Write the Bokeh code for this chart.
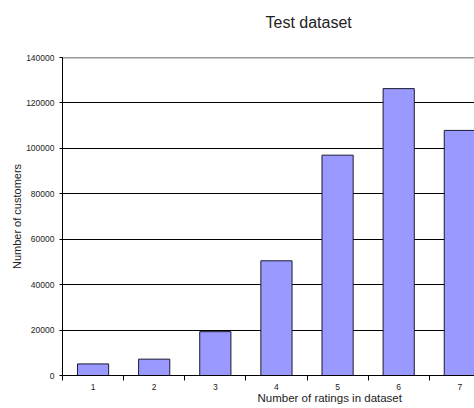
from bokeh.plotting import figure
from bokeh.models import Range1d, FixedTicker, Title, Span
from bokeh.embed import file_html
from bokeh.resources import INLINE

categories = ["1", "2", "3", "4", "5", "6", "7"]
customers = [5100, 7200, 19300, 50500, 97000, 126300, 107900]
y_ticks = [0, 20000, 40000, 60000, 80000, 100000, 120000, 140000]

xs = [i + 1 for i in range(len(categories))]
FONT = "Liberation Sans"

p = figure(width=474, height=408, output_backend="svg", toolbar_location=None,
           x_range=Range1d(0.5, 7.24), y_range=Range1d(0, 140000),
           min_border_left=62, min_border_right=0, min_border_top=56,
           min_border_bottom=33)
p.outline_line_color = None
p.background_fill_color = "white"
p.border_fill_color = "white"

p.vbar(x=xs, top=customers, width=0.51, fill_color="#9999FF",
       line_color="#1a1a33", line_width=1)

p.xgrid.grid_line_color = None
p.ygrid.grid_line_color = "black"
p.ygrid.grid_line_width = 1
p.ygrid.ticker = FixedTicker(ticks=y_ticks)
p.add_layout(Span(location=y_ticks[-1], dimension="width",
                  line_color="#333333", line_width=1.5))

xax = p.xaxis[0]
xax.ticker = FixedTicker(ticks=xs, minor_ticks=[x - 0.5 for x in xs])
xax.major_label_overrides = {x: c for x, c in zip(xs, categories)}
xax.major_tick_line_color = None
xax.minor_tick_line_color = "black"
xax.minor_tick_out = 5
xax.minor_tick_in = 0
xax.axis_line_color = "black"
xax.major_label_text_font = FONT
xax.major_label_text_font_size = "8.5px"
xax.major_label_text_color = "#222222"
xax.major_label_standoff = 2

yax = p.yaxis[0]
yax.ticker = FixedTicker(ticks=y_ticks)
yax.formatter.use_scientific = False
yax.major_tick_out = 3
yax.major_tick_in = 0
yax.minor_tick_line_color = None
yax.axis_line_color = "black"
yax.major_label_text_font = FONT
yax.major_label_text_font_size = "8.5px"
yax.major_label_text_color = "#222222"
yax.major_label_standoff = 5
yax.axis_label = "Number of customers"
yax.axis_label_text_font = FONT
yax.axis_label_text_font_size = "11px"
yax.axis_label_text_font_style = "normal"
yax.axis_label_text_color = "#222222"
yax.axis_label_standoff = 0

p.title.visible = False
p.add_layout(Title(text=" ", text_font_size="1px", standoff=12), "above")
p.add_layout(Title(text="Test dataset", align="left", offset=203,
                   text_font=FONT, text_font_size="16px",
                   text_font_style="normal", text_color="#222222",
                   standoff=23), "above")
p.add_layout(Title(text="Number of ratings in dataset", align="left", offset=195,
                   text_font=FONT, text_font_size="11.5px",
                   text_font_style="normal", text_color="#222222",
                   standoff=-5), "below")

open("out.html", "w").write(file_html(p, INLINE))
